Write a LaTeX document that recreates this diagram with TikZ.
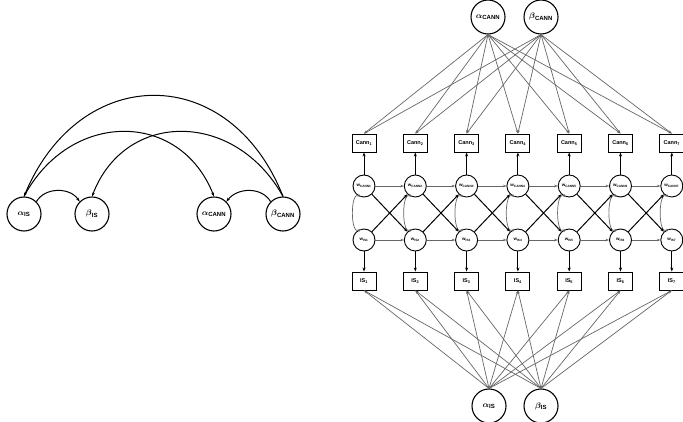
\documentclass[tikz,border=0pt]{standalone}
\usepackage{amsmath}
\usepackage{fontspec}
\setmainfont{Liberation Sans}
\usetikzlibrary{arrows.meta}
\begin{document}
\begin{tikzpicture}[x=1pt,y=-1pt,
  big/.style={circle,draw,line width=1.1pt,minimum size=34pt,inner sep=0pt,font=\bfseries\footnotesize},
  small/.style={circle,draw,line width=0.9pt,minimum size=22pt,inner sep=0pt,font=\bfseries\fontsize{4.5}{5}\selectfont},
  box/.style={rectangle,draw,line width=0.9pt,minimum width=24pt,minimum height=18pt,inner sep=0pt,font=\bfseries\fontsize{5.5}{6}\selectfont},
  blk/.style={-{Stealth[length=4pt,width=3pt]},line width=1pt},
  gr/.style={-{Stealth[length=3.5pt,width=2.5pt]},draw=gray!80!black,line width=0.7pt},
  arc/.style={-{Stealth[length=4pt,width=3pt]},line width=1pt}]
\useasboundingbox (0,0) rectangle (683,422);
% left
\node[big] (la) at (24,214) {$\boldsymbol\alpha$\textsubscript{IS}};
\node[big] (lb) at (92,214) {$\boldsymbol\beta$\textsubscript{IS}};
\node[big] (lc) at (214,214) {$\boldsymbol\alpha$\textsubscript{CANN}};
\node[big] (ld) at (283,214) {$\boldsymbol\beta$\textsubscript{CANN}};
\draw[arc] (la.north east) .. controls (45,187) and (70,187) .. (lb.north west);
\draw[arc] (ld.north west) .. controls (262,187) and (238,187) .. (lc.north east);
\draw[arc] (la.north) .. controls (70,110) and (180,110) .. (lc.north);
\draw[arc] (ld.north) .. controls (235,110) and (125,110) .. (lb.north);
\draw[arc] (ld.north) .. controls (230,62) and (80,62) .. (la.north);
% right
\node[big] (ac) at (488,17) {$\boldsymbol\alpha$\textsubscript{CANN}};
\node[big] (bc) at (541,17) {$\boldsymbol\beta$\textsubscript{CANN}};
\node[big] (ai) at (489,406) {$\boldsymbol\alpha$\textsubscript{IS}};
\node[big] (bi) at (541,406) {$\boldsymbol\beta$\textsubscript{IS}};
\foreach \i in {1,...,7}{
  \pgfmathsetmacro{\xx}{364+(\i-1)*51.3}
  \node[box] (C\i) at (\xx,143) {Cann\textsubscript{\i}};
  \node[small] (WC\i) at (\xx,186) {w\textsubscript{CANN\i}};
  \node[small] (WI\i) at (\xx,240) {w\textsubscript{IS\i}};
  \node[box] (I\i) at (\xx,281) {IS\textsubscript{\i}};
  \draw[blk] (WC\i) -- (C\i);
  \draw[blk] (WI\i) -- (I\i);
  \draw[gr,{Stealth[length=3.5pt,width=2.5pt]}-{Stealth[length=3.5pt,width=2.5pt]}] (WC\i.-105) .. controls ([xshift=-11pt,yshift=8pt]WC\i.-105) and ([xshift=-11pt,yshift=-8pt]WI\i.105) .. (WI\i.105);
  \draw[gr] (ac.south) -- (C\i.north);
  \draw[gr] (bc.south) -- (C\i.north);
  \draw[gr] (ai.north) -- (I\i.south);
  \draw[gr] (bi.north) -- (I\i.south);
}
\foreach \i [count=\j from 2] in {1,...,6}{
  \draw[gr] (WC\i) -- (WC\j);
  \draw[gr] (WI\i) -- (WI\j);
  \draw[blk] (WC\i) -- (WI\j);
  \draw[blk] (WI\i) -- (WC\j);
}
\end{tikzpicture}
\end{document}
